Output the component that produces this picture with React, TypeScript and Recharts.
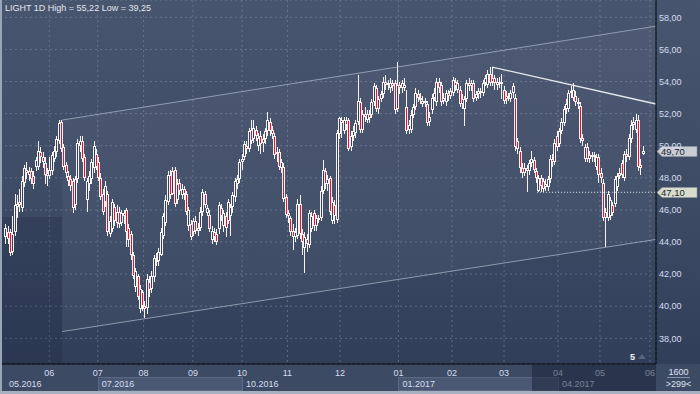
import React from 'react';
import {
  ComposedChart,
  Bar,
  Area,
  XAxis,
  YAxis,
  CartesianGrid,
  ReferenceLine,
  ReferenceArea,
} from 'recharts';

// daily candles (index = trading day)
const open = [
  44.3, 44.6, 44.6, 43.4, 44.6, 46.2, 46.5, 46.1, 47.7, 48.5, 48.2, 48.4, 48.1, 48.7, 48.7, 49.6, 49.3, 48.9, 48.3, 48.1,
  48.4, 49.2, 49.6, 50.3, 51.45, 49.9, 48.8, 48.1, 47.9, 47.8, 46.3, 47.9, 50.0, 50.3, 49.3, 46.6, 47.6, 47.9, 48.6, 49.5,
  49.0, 48.0, 47.0, 46.5, 47.0, 44.5, 44.8, 46.2, 45.2, 45.9, 45.2, 45.8, 46.0, 44.9, 44.5, 43.2, 41.2, 41.9, 39.8, 40.9,
  40.0, 39.9, 41.5, 41.1, 41.8, 42.9, 42.8, 43.2, 44.4, 45.2, 46.5, 48.2, 47.0, 48.5, 46.6, 47.7, 46.9, 47.3, 47.0, 45.0,
  45.1, 44.6, 45.3, 44.7, 44.9, 45.9, 47.0, 45.8, 45.7, 44.1, 44.6, 44.5, 44.8, 46.1, 45.0, 45.6, 45.3, 45.6, 46.2, 46.8,
  47.6, 47.9, 49.0, 49.3, 50.0, 49.8, 51.0, 50.4, 51.0, 50.0, 50.6, 50.2, 50.4, 50.9, 51.5, 51.0, 50.6, 49.5, 49.6, 48.6,
  48.7, 46.8, 45.8, 45.5, 44.7, 44.3, 44.4, 46.4, 44.5, 43.6, 44.2, 43.8, 44.8, 45.8, 45.0, 45.5, 45.5, 47.2, 48.4, 47.6,
  48.0, 45.3, 46.3, 45.4, 50.7, 51.6, 50.9, 51.6, 51.6, 49.9, 50.6, 50.8, 51.5, 52.7, 51.0, 52.0, 51.6, 52.0, 51.9, 52.7,
  53.6, 52.3, 52.9, 53.2, 54.0, 53.8, 53.6, 53.9, 53.9, 52.3, 53.8, 53.6, 53.6, 52.4, 51.0, 51.0, 51.9, 52.4, 53.2, 53.0,
  52.6, 52.8, 52.6, 51.5, 52.2, 53.0, 52.7, 54.0, 53.8, 52.8, 52.7, 53.3, 53.1, 53.3, 54.0, 53.5, 53.5, 52.6, 52.3, 52.9,
  53.9, 53.7, 53.9, 53.0, 53.2, 53.4, 53.3, 53.9, 53.8, 54.5, 54.0, 54.2, 53.8, 54.0, 54.0, 53.5, 52.9, 53.1, 52.9, 53.3,
  53.0, 50.3, 49.7, 48.6, 48.3, 48.6, 48.4, 48.9, 49.1, 48.4, 47.2, 48.0, 47.8, 47.4, 47.4, 47.9, 49.2, 49.0, 50.6, 50.1,
  50.9, 51.4, 52.3, 52.3, 53.3, 53.0, 53.1, 52.7, 52.5, 50.5, 49.2, 49.9, 49.2, 49.4, 49.3, 48.7, 49.3, 48.3, 47.7, 45.9,
  45.5, 45.6, 46.3, 46.4, 47.4, 48.1, 48.9, 48.0, 49.5, 49.3, 50.4, 51.3, 51.0, 51.6, 48.8, 49.5,
];
const high = [
  45.1, 45.0, 44.8, 45.6, 47.0, 46.9, 47.3, 48.1, 48.8, 49.0, 48.7, 48.6, 48.4, 49.3, 50.3, 49.9, 49.6, 49.3, 48.6, 49.3,
  49.6, 50.0, 50.6, 51.6, 51.6, 50.1, 49.0, 48.4, 48.2, 48.0, 48.1, 50.4, 50.6, 50.6, 49.5, 48.0, 48.4, 49.2, 50.3, 49.8,
  49.3, 48.3, 47.3, 47.8, 47.2, 45.6, 46.7, 46.4, 46.3, 46.2, 46.0, 46.0, 46.1, 45.1, 44.7, 43.4, 42.4, 42.0, 41.3, 41.0,
  40.3, 42.0, 41.9, 42.2, 43.2, 43.3, 43.6, 44.9, 45.8, 46.9, 48.4, 48.5, 48.7, 48.7, 47.9, 47.9, 47.6, 47.5, 47.2, 46.2,
  45.4, 45.5, 45.6, 45.2, 46.2, 47.3, 47.2, 46.3, 46.0, 45.0, 44.9, 44.8, 46.5, 46.4, 46.0, 45.9, 46.7, 46.4, 47.1, 48.0,
  48.2, 49.2, 49.5, 50.3, 50.3, 51.1, 51.6, 51.6, 51.2, 50.8, 50.9, 50.7, 51.1, 52.1, 51.7, 51.2, 50.8, 49.9, 49.8, 49.2,
  48.9, 47.0, 46.0, 45.6, 45.1, 44.9, 46.7, 46.9, 44.8, 44.6, 44.5, 46.0, 45.9, 46.0, 45.7, 45.7, 47.5, 49.1, 48.6, 48.2,
  48.1, 46.8, 46.6, 51.0, 51.8, 51.8, 51.8, 51.8, 51.7, 50.9, 51.2, 51.6, 54.4, 53.0, 52.2, 52.4, 52.2, 52.2, 52.9, 53.9,
  53.8, 53.1, 53.4, 54.3, 54.4, 54.1, 54.2, 54.1, 54.1, 55.22, 54.0, 54.1, 54.2, 53.5, 51.6, 52.2, 52.6, 53.6, 53.5, 53.3,
  53.1, 53.0, 52.8, 52.1, 53.2, 53.6, 54.2, 54.2, 54.0, 53.3, 53.5, 53.5, 53.6, 54.3, 54.2, 54.1, 53.7, 53.2, 53.1, 54.1,
  54.2, 54.1, 54.1, 53.4, 53.6, 53.6, 54.1, 54.4, 54.7, 54.9, 54.9, 54.4, 54.2, 54.3, 54.5, 53.7, 53.4, 53.3, 53.5, 53.9,
  53.2, 50.5, 49.9, 48.9, 48.9, 48.8, 49.1, 49.7, 49.3, 48.6, 48.2, 48.2, 48.0, 47.9, 48.1, 49.4, 49.5, 50.4, 50.9, 51.1,
  51.7, 52.5, 52.9, 53.5, 53.7, 53.9, 53.4, 53.0, 52.7, 50.7, 50.1, 50.2, 49.7, 49.6, 49.6, 49.5, 49.5, 48.6, 47.9, 46.1,
  47.2, 46.8, 46.5, 48.1, 48.3, 48.6, 49.1, 49.7, 49.8, 50.7, 51.6, 51.8, 52.0, 51.9, 49.2, 50.0,
];
const low = [
  43.9, 43.9, 43.1, 43.2, 44.4, 45.5, 45.9, 45.9, 47.4, 47.9, 47.8, 47.6, 47.3, 48.4, 48.5, 48.9, 48.6, 47.6, 47.5, 47.9,
  48.2, 49.0, 49.3, 50.1, 49.6, 48.5, 48.0, 47.5, 47.2, 45.8, 46.0, 47.7, 49.6, 49.0, 47.8, 45.9, 47.2, 47.6, 48.3, 48.5,
  47.8, 46.6, 45.7, 46.2, 44.4, 44.3, 44.6, 45.0, 44.9, 44.9, 45.0, 45.1, 43.7, 43.7, 42.9, 41.7, 40.9, 40.4, 39.6, 39.7,
  39.25, 39.5, 40.6, 40.8, 41.5, 42.5, 42.5, 43.1, 44.2, 45.0, 46.3, 46.7, 46.9, 46.2, 46.4, 46.9, 46.7, 46.6, 45.7, 44.7,
  44.1, 44.4, 44.5, 44.4, 44.7, 45.6, 46.1, 45.6, 44.6, 43.9, 44.0, 43.8, 44.5, 45.3, 44.6, 44.3, 45.1, 44.4, 45.8, 46.5,
  47.3, 47.7, 48.5, 49.1, 49.5, 49.6, 50.1, 50.2, 50.3, 49.7, 49.5, 49.6, 50.1, 50.6, 50.6, 50.4, 49.2, 49.0, 48.5, 48.3,
  46.5, 45.5, 45.2, 44.4, 43.5, 44.0, 44.2, 44.2, 43.2, 42.1, 43.4, 43.6, 44.6, 44.7, 44.7, 45.2, 45.3, 47.0, 47.3, 47.2,
  45.7, 45.1, 45.1, 45.2, 50.4, 50.5, 50.7, 51.0, 49.7, 49.7, 50.3, 50.5, 51.3, 50.8, 50.8, 51.5, 51.4, 51.4, 51.7, 52.5,
  52.1, 52.0, 52.7, 53.0, 53.5, 53.5, 53.3, 53.4, 52.0, 52.1, 53.2, 53.3, 53.4, 50.7, 50.7, 50.8, 51.7, 52.2, 52.7, 52.6,
  52.4, 52.4, 51.2, 51.2, 52.0, 52.8, 52.5, 53.3, 52.5, 52.6, 52.5, 52.8, 52.9, 53.1, 53.4, 53.3, 52.4, 52.3, 51.2, 52.7,
  53.4, 53.4, 52.7, 52.8, 52.9, 53.0, 53.1, 53.7, 53.6, 53.7, 53.7, 53.5, 53.5, 53.6, 52.9, 52.6, 52.6, 52.8, 52.7, 53.0,
  49.7, 49.5, 48.3, 48.0, 48.1, 47.1, 48.2, 48.7, 48.3, 47.7, 47.1, 47.1, 47.1, 47.2, 47.2, 47.7, 48.7, 48.8, 49.7, 49.9,
  50.7, 51.2, 52.0, 52.1, 53.0, 52.8, 52.5, 52.3, 50.2, 50.0, 49.0, 49.0, 48.9, 49.0, 49.0, 48.5, 47.7, 47.7, 45.3, 43.7,
  45.3, 45.4, 45.6, 46.2, 47.2, 47.9, 48.0, 47.8, 49.0, 49.1, 50.2, 51.0, 50.8, 48.4, 48.2, 49.4,
];
const close = [
  44.9, 44.2, 43.3, 44.5, 46.3, 46.4, 46.3, 47.8, 48.6, 48.3, 48.4, 47.9, 47.6, 49.1, 49.7, 49.3, 49.0, 48.2, 48.1, 48.5,
  49.4, 49.7, 50.4, 51.4, 49.8, 48.7, 48.3, 47.8, 47.5, 46.1, 47.9, 50.2, 50.3, 49.2, 48.0, 47.8, 48.1, 49.0, 50.0, 48.7,
  48.0, 46.8, 45.9, 47.5, 44.6, 45.3, 46.5, 45.3, 45.9, 45.1, 45.8, 45.6, 44.6, 44.1, 43.2, 41.9, 42.2, 40.6, 41.1, 40.0,
  39.8, 41.7, 41.0, 41.9, 43.0, 42.8, 43.4, 44.6, 45.6, 46.6, 48.2, 46.9, 48.4, 46.4, 47.6, 47.2, 47.3, 47.0, 45.9, 46.0,
  44.3, 45.3, 44.7, 44.9, 45.9, 47.1, 46.3, 46.1, 44.8, 44.7, 44.3, 44.0, 46.3, 45.6, 45.8, 44.9, 46.5, 46.2, 46.9, 47.8,
  47.9, 49.0, 49.2, 50.1, 49.8, 50.9, 50.3, 51.1, 50.6, 50.5, 50.1, 50.4, 50.9, 51.6, 50.9, 50.7, 49.4, 49.6, 48.7, 49.0,
  46.7, 45.7, 45.6, 44.6, 44.3, 44.6, 46.4, 44.5, 44.0, 44.3, 43.9, 45.8, 45.6, 45.0, 45.5, 45.4, 47.2, 48.5, 47.6, 47.9,
  45.9, 46.5, 45.6, 50.8, 51.7, 51.4, 51.6, 51.3, 49.8, 50.6, 50.9, 51.4, 52.8, 51.0, 52.0, 51.8, 52.0, 51.7, 52.7, 53.7,
  52.3, 52.9, 53.2, 54.0, 53.8, 53.9, 53.9, 53.7, 52.2, 53.8, 53.6, 53.9, 53.8, 50.9, 51.3, 51.9, 52.4, 53.3, 53.0, 52.9,
  52.8, 52.7, 51.4, 51.8, 53.0, 53.3, 54.0, 53.6, 52.7, 53.0, 53.3, 53.1, 53.4, 54.1, 53.7, 53.9, 52.6, 52.9, 52.9, 53.9,
  53.7, 53.9, 52.9, 53.2, 53.4, 53.3, 53.9, 54.2, 54.5, 53.9, 54.2, 53.9, 54.0, 53.9, 53.9, 52.8, 53.1, 53.0, 53.3, 53.7,
  49.9, 49.8, 48.6, 48.3, 48.6, 48.4, 48.9, 49.2, 48.5, 48.0, 48.0, 47.5, 47.3, 47.6, 47.9, 49.2, 49.0, 50.2, 49.9, 50.9,
  51.5, 52.3, 52.6, 53.3, 53.4, 53.5, 52.7, 52.6, 50.4, 50.3, 49.9, 49.2, 49.4, 49.3, 49.4, 49.3, 48.2, 48.0, 45.5, 45.5,
  47.0, 46.6, 45.8, 47.9, 48.1, 48.3, 48.2, 49.5, 49.3, 50.5, 51.3, 51.5, 51.6, 48.7, 48.6, 49.7,
];

// axis labels
const monthTicks = [18.7, 39.6, 59.4, 80.7, 101.9, 121.5, 144.2, 169.4, 192.5, 215, 238.3, 256.4, 278];
const monthLabels = ['06', '07', '08', '09', '10', '11', '12', '01', '02', '03', '04', '05', '06'];
const quarterTicks = [-0.4, 39.6, 101.9, 169.4, 238.3, 280.6];
const quarterLabels = ['05.2016', '07.2016', '10.2016', '01.2017', '04.2017', ''];
const quarterShaded = [false, true, false, true, false, false];
const priceTicks = [38, 40, 42, 44, 46, 48, 50, 52, 54, 56, 58];

// drawn lines (index, price)
const upperChannel = [{ x: 24.2, y: 51.6 }, { x: 280.6, y: 57.45 }];
const lowerChannel = [{ x: 24.2, y: 38.42 }, { x: 280.6, y: 44.16 }];
const resistance = [{ x: 209.8, y: 54.9 }, { x: 280.6, y: 52.6 }];
const channelBand = [
  { i: 24.2, band: [38.42, 51.6] },
  { i: 280.6, band: [44.16, 57.45] },
];
const lastClose = 49.7;
const support = 47.1;
const supportFrom = 229.3;

const X_MIN = -2.59;
const X_MAX = 280.6;
const PLOT_W = 656;

const candles = close.map((c, i) => ({ i, o: open[i], h: high[i], l: low[i], c }));

const fmt = (v: number) => v.toFixed(2).replace('.', ',');

const WHITE = '#f7f2ee';
const RED = '#e3123a';

const Candle = (props: any) => {
  const { x, y, width, height, payload } = props;
  if (!payload) return null;
  const { o, h, l, c } = payload;
  const span = h - l || 0.01;
  const hgt = Math.abs(height);
  const top0 = height < 0 ? y + height : y;
  const toPx = (v: number) => top0 + ((h - v) / span) * hgt;
  const cx = Math.round(x + width / 2 - 0.5);
  const wickTop = Math.round(top0);
  const wickBot = Math.round(top0 + hgt);
  const bTop = Math.round(toPx(Math.max(o, c)));
  const bBot = Math.max(bTop + 2, Math.round(toPx(Math.min(o, c))));
  const up = c >= o;
  return (
    <g>
      <rect x={cx} y={wickTop} width={1} height={Math.max(1, wickBot - wickTop)} fill={WHITE} />
      <rect x={cx - 1} y={bTop} width={3} height={bBot - bTop} fill={WHITE} />
      {bBot - bTop > 2 && (
        <rect x={cx} y={bTop + 1} width={1} height={bBot - bTop - 2} fill={up ? '#34415c' : RED} />
      )}
    </g>
  );
};

const MonthTick = (props: any) => {
  const { x, y, index } = props;
  return (
    <text x={x} y={y + 12} textAnchor="middle" fill="#d5def0" fontSize={9}>
      {monthLabels[index]}
    </text>
  );
};

const QuarterTick = (props: any) => {
  const { x, y, index } = props;
  const label = quarterLabels[index];
  if (!label) return null;
  const nextIdx = quarterTicks[index + 1] ?? X_MAX;
  const w = (nextIdx - quarterTicks[index]) * (PLOT_W / (X_MAX - X_MIN));
  return (
    <g>
      {quarterShaded[index] && (
        <rect x={Math.round(x) + 0.5} y={y + 0.5} width={Math.round(w)} height={13} fill="#4b5873" stroke="#5c6985" />
      )}
      <text x={x + 4} y={y + 10} fill="#d5def0" fontSize={9}>
        {label}
      </text>
    </g>
  );
};

const PriceTag = ({ viewBox, text, bg }: any) => {
  if (!viewBox) return null;
  const x = viewBox.x + viewBox.width + 1;
  const y = Math.round(viewBox.y) + 0.5;
  return (
    <g>
      <path
        d={`M${x} ${y} L${x + 5} ${y - 5} L${x + 40} ${y - 5} L${x + 40} ${y + 5} L${x + 5} ${y + 5} Z`}
        fill={bg}
        stroke="#8c96a6"
        strokeWidth={0.6}
      />
      <text x={x + 4} y={y + 3.5} fill="#1c2434" fontSize={9.5}>
        {text}
      </text>
    </g>
  );
};

export default function App() {
  return (
    <div
      style={{
        position: 'fixed',
        left: 0,
        top: 0,
        width: 700,
        height: 394,
        overflow: 'hidden',
        fontFamily: '"Liberation Sans", Arial, sans-serif',
        background: 'linear-gradient(180deg, #48556f 0%, #3e4b65 50%, #2f3c57 100%)',
      }}
    >
      <div style={{ position: 'absolute', left: 0, top: 364, width: 700, height: 30, background: '#3d4a64' }} />
      <div style={{ position: 'absolute', left: 0, top: 0 }}>
        <ComposedChart width={700} height={394} data={candles} margin={{ top: 0, right: 0, bottom: 0, left: 0 }}>
          <XAxis
            dataKey="i"
            type="number"
            domain={[X_MIN, X_MAX]}
            allowDataOverflow
            ticks={monthTicks}
            interval={0}
            height={13}
            tickSize={0}
            tickMargin={0}
            tickLine={false}
            axisLine={{ stroke: '#000000' }}
            tick={<MonthTick />}
          />
          <XAxis
            xAxisId="q"
            dataKey="i"
            type="number"
            domain={[X_MIN, X_MAX]}
            allowDataOverflow
            ticks={quarterTicks}
            interval={0}
            height={17}
            tickSize={0}
            tickMargin={0}
            tickLine={false}
            axisLine={false}
            tick={<QuarterTick />}
          />
          <YAxis
            orientation="right"
            type="number"
            domain={[36.4, 59.08]}
            allowDataOverflow
            ticks={priceTicks}
            interval={0}
            width={44}
            tickSize={0}
            tickMargin={3}
            tickLine={false}
            axisLine={{ stroke: '#000000' }}
            tickFormatter={fmt}
            tick={{ fill: '#d5def0', fontSize: 9, textAnchor: 'start' }}
          />
          <ReferenceArea x1={X_MIN} x2={24.2} y1={36.4} y2={45.56} fill="#101a30" fillOpacity={0.18} stroke="none" />
          <Area
            data={channelBand}
            dataKey="band"
            type="linear"
            stroke="none"
            fill="#ffffff"
            fillOpacity={0.04}
            isAnimationActive={false}
          />
          <CartesianGrid stroke="#8593ad" strokeOpacity={0.5} strokeDasharray="2 3" />
          <ReferenceLine segment={upperChannel} stroke="#aab4c6" strokeOpacity={0.75} />
          <ReferenceLine segment={lowerChannel} stroke="#aab4c6" strokeOpacity={0.75} />
          <ReferenceLine segment={resistance} stroke="#e6e8ee" strokeWidth={1.3} />
          <Bar
            dataKey={(d: any) => [d.l, d.h]}
            barSize={3}
            shape={<Candle />}
            isAnimationActive={false}
          />
          <ReferenceLine
            segment={[{ x: supportFrom, y: support }, { x: X_MAX, y: support }]}
            stroke="#e8ecf2"
            strokeDasharray="1 2"
            label={<PriceTag text={fmt(support)} bg="#d9dccb" />}
          />
          <ReferenceLine y={lastClose} stroke="none" label={<PriceTag text={fmt(lastClose)} bg="#c9cdd3" />} />
        </ComposedChart>
      </div>
      <div
        style={{
          position: 'absolute',
          left: 5,
          top: 3,
          fontSize: 9,
          color: '#e2e7f0',
          whiteSpace: 'nowrap',
          lineHeight: '11px',
        }}
      >
        LIGHT 1D High = 55,22 Low = 39,25
      </div>
      <div style={{ position: 'absolute', left: 630, top: 352, fontSize: 9, color: '#f0f3f8', fontWeight: 'bold' }}>5</div>
      <div
        style={{
          position: 'absolute',
          left: 638,
          top: 354,
          width: 0,
          height: 0,
          borderLeft: '4px solid transparent',
          borderRight: '4px solid transparent',
          borderBottom: '5px solid #56637e',
        }}
      />
      <div
        style={{
          position: 'absolute',
          left: 532,
          top: 365,
          width: 124,
          height: 26,
          background: 'rgba(22, 31, 52, 0.5)',
        }}
      />
      <div style={{ position: 'absolute', left: 657, top: 367, width: 43, textAlign: 'center', fontSize: 9, color: '#dfe5f0', lineHeight: '10px' }}>
        1600
      </div>
      <div style={{ position: 'absolute', left: 667, top: 377, width: 23, height: 1, background: '#8792a6' }} />
      <div style={{ position: 'absolute', left: 657, top: 379, width: 43, textAlign: 'center', fontSize: 9, color: '#dfe5f0', lineHeight: '10px' }}>
        &gt;299&lt;
      </div>
      <div style={{ position: 'absolute', left: 0, top: 0, width: 2, height: 394, background: '#9aa5b7' }} />
      <div style={{ position: 'absolute', left: 0, top: 391, width: 700, height: 3, background: '#a6b0c0' }} />
    </div>
  );
}
